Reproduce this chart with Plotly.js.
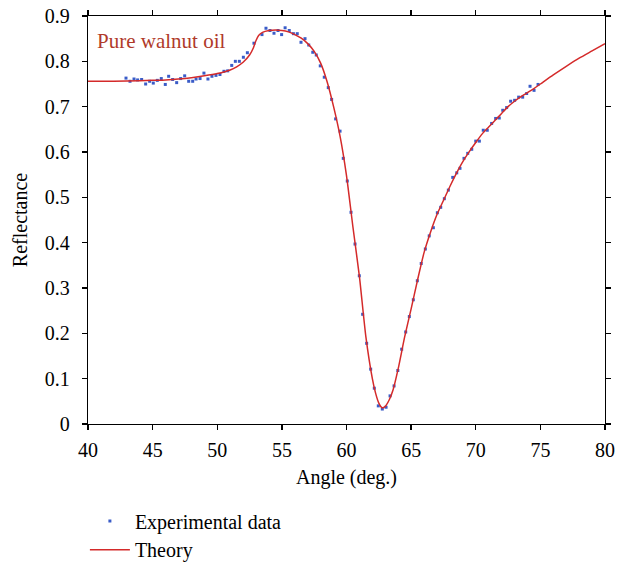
<!DOCTYPE html>
<html>
<head>
<meta charset="utf-8">
<script src="https://cdn.plot.ly/plotly-3.0.1.min.js"></script>
<style>html,body{margin:0;padding:0;background:#fff;}#chart{width:626px;height:563px;}</style>
</head>
<body>
<div id="chart"></div>
<script>
// Experimental data (angle in degrees, reflectance)
const expAngle = [42.94,43.25,43.56,43.84,44.15,44.46,44.77,45.05,45.36,45.67,45.98,46.24,46.55,46.86,47.17,47.48,47.79,48.10,48.36,48.67,48.97,49.28,49.59,49.90,50.21,50.52,50.81,51.12,51.40,51.71,52.02,52.33,52.84,53.46,53.77,54.08,54.39,54.70,54.98,55.25,55.57,55.89,56.19,56.48,56.79,57.08,57.39,57.66,57.97,58.28,58.59,58.85,59.16,59.50,59.75,60.06,60.35,60.66,60.99,61.25,61.56,61.87,62.15,62.46,62.77,63.06,63.37,63.68,63.97,64.27,64.58,64.86,65.17,65.48,65.78,66.10,66.40,66.72,67.03,67.29,67.57,67.88,68.22,68.53,68.78,69.09,69.38,69.69,70.00,70.28,70.58,70.89,71.23,71.54,71.82,72.09,72.39,72.70,73.01,73.32,73.63,73.94,74.20,74.51,74.82];
const expRefl = [0.763,0.756,0.761,0.759,0.760,0.750,0.756,0.752,0.758,0.762,0.749,0.767,0.760,0.753,0.762,0.768,0.756,0.756,0.761,0.762,0.774,0.761,0.767,0.769,0.771,0.778,0.779,0.791,0.800,0.800,0.809,0.819,0.840,0.859,0.873,0.868,0.862,0.868,0.859,0.874,0.868,0.861,0.861,0.842,0.850,0.836,0.820,0.814,0.790,0.765,0.742,0.716,0.673,0.646,0.586,0.536,0.467,0.397,0.327,0.242,0.178,0.121,0.079,0.040,0.033,0.037,0.062,0.084,0.118,0.165,0.203,0.237,0.274,0.316,0.354,0.386,0.415,0.433,0.466,0.478,0.497,0.516,0.544,0.554,0.564,0.586,0.597,0.606,0.624,0.624,0.648,0.648,0.663,0.674,0.675,0.692,0.698,0.712,0.714,0.721,0.721,0.729,0.745,0.736,0.749];

// Theory curve
const thAngle = [40,42,44,45,46,47,48,49,50,51,51.5,52,52.5,52.8,53.0,53.2,53.5,54.0,54.5,55.0,55.5,56.0,56.5,57.0,57.5,58.0,58.5,59.0,59.5,60.0,60.5,61.0,61.5,62.0,62.25,62.5,62.75,63.0,63.3,63.6,64.0,64.5,65.0,65.5,66.0,66.5,67.0,67.5,68.0,68.5,69.0,69.5,70.0,70.5,71.0,71.5,72.0,72.5,73.0,73.5,74.0,74.5,75.0,76.0,77.0,78.0,79.0,80.0];
const thRefl = [0.756,0.756,0.757,0.758,0.759,0.761,0.764,0.768,0.773,0.781,0.788,0.798,0.814,0.830,0.846,0.857,0.864,0.868,0.869,0.868,0.865,0.859,0.851,0.839,0.822,0.796,0.755,0.700,0.635,0.548,0.434,0.325,0.192,0.100,0.068,0.046,0.036,0.039,0.053,0.075,0.122,0.192,0.254,0.318,0.378,0.423,0.462,0.493,0.524,0.553,0.579,0.601,0.621,0.640,0.655,0.670,0.685,0.700,0.712,0.722,0.731,0.740,0.750,0.770,0.789,0.807,0.823,0.839];

const xTickVals = [40,45,50,55,60,65,70,75,80];
const yTickVals = [0,0.1,0.2,0.3,0.4,0.5,0.6,0.7,0.8,0.9];
const yTickText = ['0','0.1','0.2','0.3','0.4','0.5','0.6','0.7','0.8','0.9'];

const FONT = 'Liberation Serif';

const traces = [
  {
    x: expAngle, y: expRefl, mode: 'markers', type: 'scatter',
    name: 'Experimental data', legend: 'legend',
    marker: {color: '#3a5cc8', size: 3, symbol: 'square'},
    cliponaxis: false
  },
  {
    x: thAngle, y: thRefl, mode: 'lines', type: 'scatter',
    name: 'Theory', legend: 'legend2',
    line: {color: '#d42a2a', width: 1.5, shape: 'spline', smoothing: 0.6}
  }
];

const axisCommon = {
  showgrid: false, zeroline: false, showline: true, linecolor: '#000', linewidth: 1.3,
  mirror: 'ticks', ticks: 'outside', ticklen: 5, tickwidth: 1.3, tickcolor: '#000',
  tickfont: {family: FONT, size: 20, color: '#000'}
};

const layout = {
  width: 626, height: 563,
  margin: {l: 88, r: 21, t: 16, b: 139, autoexpand: false},
  paper_bgcolor: '#fff', plot_bgcolor: '#fff',
  font: {family: FONT, size: 20, color: '#000'},
  xaxis: Object.assign({}, axisCommon, {
    range: [40, 80], tickvals: xTickVals, ticklabelstandoff: 3,
    title: {text: 'Angle (deg.)', font: {family: FONT, size: 20, color: '#000'}, standoff: 9}
  }),
  yaxis: Object.assign({}, axisCommon, {
    range: [0, 0.9], tickvals: yTickVals, ticktext: yTickText, ticklabelstandoff: 8,
    title: {text: 'Reflectance', font: {family: FONT, size: 20, color: '#000'}, standoff: 11}
  }),
  showlegend: true,
  legend: {
    x: -0.006, y: -0.238, xanchor: 'left', yanchor: 'middle',
    bgcolor: 'rgba(0,0,0,0)', borderwidth: 0, itemwidth: 40,
    font: {family: FONT, size: 20, color: '#000'}
  },
  legend2: {
    x: -0.006, y: -0.308, xanchor: 'left', yanchor: 'middle',
    bgcolor: 'rgba(0,0,0,0)', borderwidth: 0, itemwidth: 40,
    font: {family: FONT, size: 20, color: '#000'}
  },
  annotations: [{
    text: 'Pure walnut oil', xref: 'paper', yref: 'paper', x: 0.0135, y: 0.9376,
    xanchor: 'left', yanchor: 'middle', showarrow: false,
    font: {family: FONT, size: 21, color: '#b03a2a'}
  }]
};

Plotly.newPlot('chart', traces, layout, {displayModeBar: false, staticPlot: true});
</script>
</body>
</html>
